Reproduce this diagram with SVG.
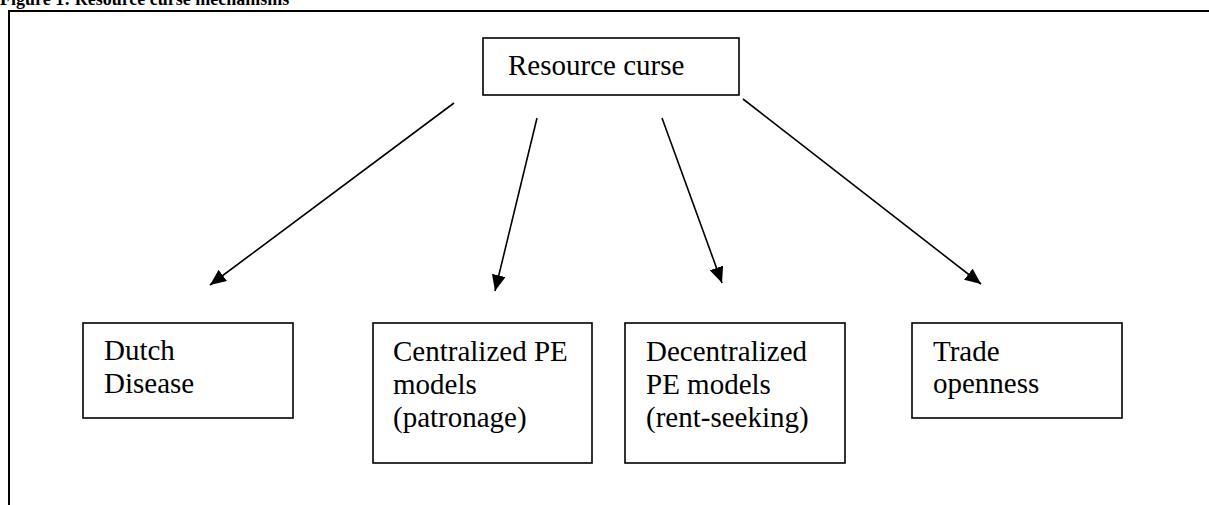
<svg xmlns="http://www.w3.org/2000/svg" width="1209" height="505" viewBox="0 0 1209 505">
<style>
.box{fill:#fff;stroke:#000;stroke-width:1.6}
.t{font-family:"Liberation Serif","Times New Roman",serif;font-size:29px;fill:#000}
.title{font-family:"Liberation Serif","Times New Roman",serif;font-size:18px;font-weight:bold;fill:#000}
.edge{stroke:#000;stroke-width:1.6;fill:none;marker-end:url(#ah)}
</style>
<defs>
<marker id="ah" markerUnits="userSpaceOnUse" markerWidth="18" markerHeight="14" refX="16" refY="7" orient="auto">
<path d="M0,0 L16,7 L0,14 Z" fill="#000"/>
</marker>
</defs>
<rect width="1209" height="505" fill="#fff"/>
<text class="title" x="0" y="5">Figure 1: Resource curse mechanisms</text>
<path d="M9,510 L9,11 L1215,11" fill="none" stroke="#000" stroke-width="2"/>
<g id="connectors">
<line class="edge" x1="454" y1="103" x2="210" y2="285"/>
<line class="edge" x1="537" y1="118" x2="495" y2="291"/>
<line class="edge" x1="662" y1="118" x2="722" y2="283"/>
<line class="edge" x1="743" y1="99" x2="981" y2="284"/>
</g>
<g id="resource-curse">
<rect class="box" x="483" y="38" width="256" height="57"/>
<text class="t" x="508" y="75">Resource curse</text>
</g>
<g id="dutch-disease">
<rect class="box" x="83" y="323" width="210" height="95"/>
<text class="t" x="104" y="360">Dutch</text>
<text class="t" x="104" y="393">Disease</text>
</g>
<g id="centralized">
<rect class="box" x="373" y="323" width="219" height="140"/>
<text class="t" x="393" y="361">Centralized PE</text>
<text class="t" x="393" y="394">models</text>
<text class="t" x="393" y="427">(patronage)</text>
</g>
<g id="decentralized">
<rect class="box" x="625" y="323" width="220" height="140"/>
<text class="t" x="646" y="361">Decentralized</text>
<text class="t" x="646" y="394">PE models</text>
<text class="t" x="646" y="427">(rent-seeking)</text>
</g>
<g id="trade-openness">
<rect class="box" x="912" y="323" width="210" height="95"/>
<text class="t" x="933" y="361">Trade</text>
<text class="t" x="933" y="393">openness</text>
</g>
</svg>
